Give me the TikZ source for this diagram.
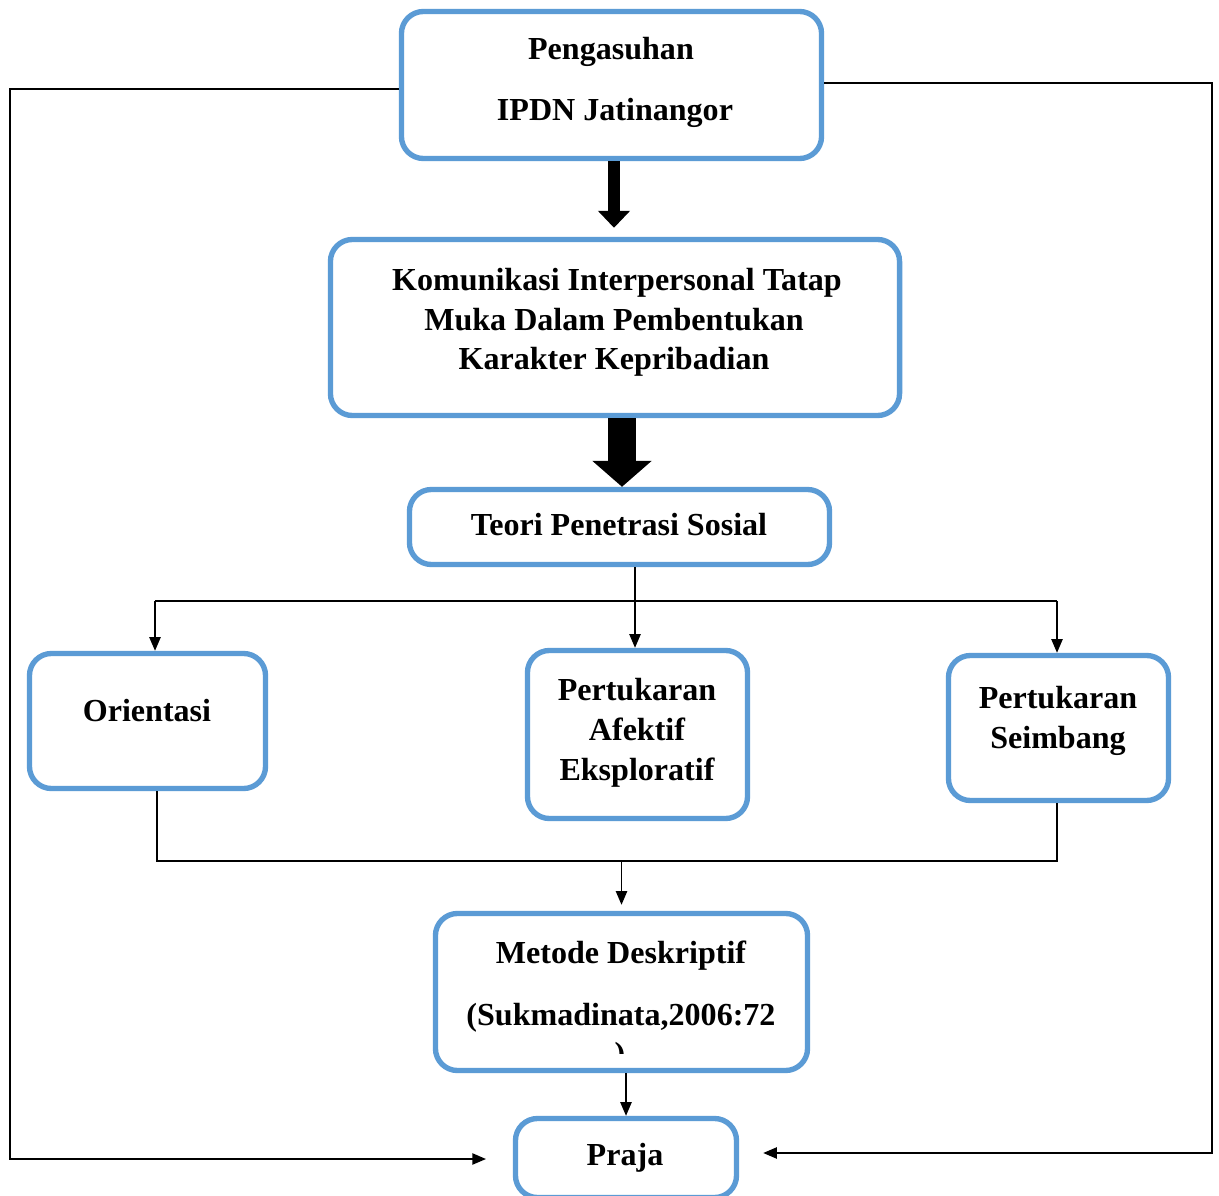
\documentclass[tikz,border=0pt]{standalone}
\usepackage{fontspec}
\setmainfont{Liberation Serif}
\usetikzlibrary{arrows.meta}
\definecolor{boxblue}{HTML}{5B9BD5}
\begin{document}
\begin{tikzpicture}[x=0.025cm,y=-0.025cm,
  box/.style={draw=boxblue, line width=3.8pt, rounded corners=0.55cm, fill=white, inner sep=0pt},
  lbl/.style={font=\fontsize{22.8}{28.45}\selectfont\bfseries, inner sep=0pt, anchor=base},
  conn/.style={line width=1.05pt},
  thinarrow/.style={conn, -{Triangle[length=0.34cm,width=0.28cm]}}]
\useasboundingbox (0,0) rectangle (1219,1196);
\fill[white] (0,0) rectangle (1219,1196);

% boxes
\node[box, minimum width=10.5cm, minimum height=3.675cm] (p) at (611.5,85) {};
\node[box, minimum width=14.225cm, minimum height=4.4cm] (k) at (615,327.5) {};
\node[box, minimum width=10.5cm, minimum height=1.875cm] (t) at (619.5,527) {};
\node[box, minimum width=5.9cm, minimum height=3.375cm] (o) at (147.5,721) {};
\node[box, minimum width=5.5cm, minimum height=4.2cm] (a) at (637.5,734.5) {};
\node[box, minimum width=5.5cm, minimum height=3.625cm] (s) at (1058.5,728) {};
\node[box, minimum width=9.3cm, minimum height=3.925cm] (m) at (621.5,992) {};
\node[box, minimum width=5.525cm, minimum height=1.975cm] (j) at (626,1158) {};

% texts
\node[lbl] (tp1) at (611,60) {Pengasuhan};
\node[lbl] (tp2) at (615,120) {IPDN Jatinangor};
\node[lbl] (tk1) at (617,290) {Komunikasi Interpersonal Tatap};
\node[lbl] (tk2) at (614,330) {Muka Dalam Pembentukan};
\node[lbl] (tk3) at (614,369) {Karakter Kepribadian};
\node[lbl] (tt) at (619,535) {Teori Penetrasi Sosial};
\node[lbl] (to) at (147,721) {Orientasi};
\node[lbl] (ta1) at (637,700) {Pertukaran};
\node[lbl] (ta2) at (637,740) {Afektif};
\node[lbl] (ta3) at (637,780) {Eksploratif};
\node[lbl] (ts1) at (1058,708) {Pertukaran};
\node[lbl] (ts2) at (1058,748) {Seimbang};
\node[lbl] (tm1) at (621,963) {Metode Deskriptif};
\node[lbl] (tm2) at (621,1025) {(Sukmadinata,2006:72};
\begin{scope}
  \clip (595,1038) rectangle (645,1053);
  \node[lbl] (tm3) at (620,1064) {)};
\end{scope}
\node[lbl] (tj) at (625,1165) {Praja};

% big arrows
\draw[line width=0.3cm, -{Triangle[length=0.425cm,width=0.78cm]}, shorten >=0.225cm]
  ([xshift=0.0625cm]p.south) -- ([xshift=0.0625cm]p.south |- k.north);
\draw[line width=0.7cm, -{Triangle[length=0.65cm,width=1.45cm]}]
  ([xshift=0.175cm]k.south) -- ([xshift=0.175cm]k.south |- t.north);

% split
\coordinate (splitL) at (155,601);
\coordinate (splitR) at (1057,601);
\coordinate (splitM) at (635,601);
\draw[conn] (splitM |- t.south) -- (splitM);
\draw[conn] (splitL) -- (splitR);
\draw[thinarrow] (splitL) -- (splitL |- o.north);
\draw[thinarrow] (splitM) -- (splitM |- a.north);
\draw[thinarrow] (splitR) -- (splitR |- s.north);

% join
\coordinate (joinL) at (157,861);
\coordinate (joinR) at (1057,861);
\draw[conn] (joinL |- o.south) -- (joinL) -- (joinR) -- (joinR |- s.south);
\draw[thinarrow, shorten >=0.15cm] (m.north |- joinL) -- (m.north);

% metode to praja
\draw[thinarrow] (j.north |- m.south) -- (j.north);

% feedback lines
\coordinate (botL) at (10,1159);
\coordinate (botR) at (1212,1153);
\draw[thinarrow, shorten >=0.67cm] ([yshift=-0.1cm]p.west) -| (botL) -- (botL -| j.west);
\draw[thinarrow, shorten >=0.6cm] ([yshift=0.05cm]p.east) -| (botR) -- (botR -| j.east);
\end{tikzpicture}
\end{document}
